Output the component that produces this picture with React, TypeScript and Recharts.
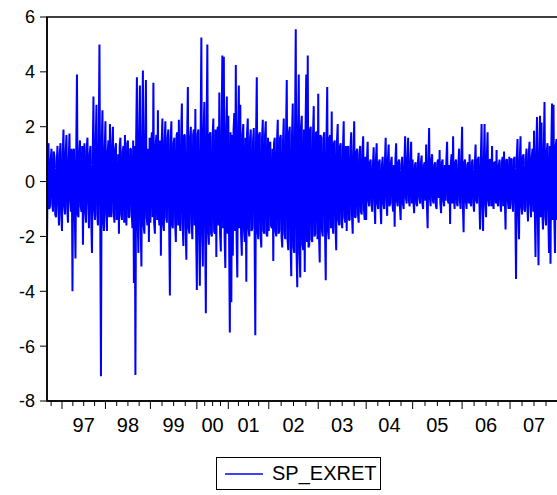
import { LineChart, Line, XAxis, YAxis, ReferenceArea, Legend } from "recharts";

const FONT = '"Liberation Sans", Arial, sans-serif';

// year labels (two digits, EViews style)
const yearLabels = ["96", "97", "98", "99", "00", "01", "02", "03", "04", "05", "06", "07"];

// daily excess returns, thinned out, one array per calendar year
const y1996 = [-2.3, 0.9, 1.4, -1.0, -0.9, 0.8, 1.2, -0.8, -1.1, 1.1, 0.9, -1.2, -1.3, 0.7, 1.3, -0.9, -1.6, 1.0, 1.4, -1.2];
const y1997 = [
  -1.8, 1.0, 1.9, -0.9, -1.2, 1.1, 1.7, -1.0, -1.5, 0.8, 1.75, -0.7, -1.1, 1.2, -4.0, 0.9, 1.2, -1.0, -2.8, 1.1,
  3.9, -1.2, -1.3, 1.0, 1.5, -0.9, -1.1, 1.3, -2.3, 0.8, 1.4, -1.1, -1.5, 1.2, 1.6, -0.8, -1.7, 1.0, 1.3, -1.3,
  -2.6, 0.9, 3.1, -1.0, -1.4, 1.4, 2.8, -1.2, -1.6, 1.1, 5.0, -1.0, -7.1, 1.3, 2.6, -1.4, -1.8, 1.2,
];
const y1998 = [
  2.2, -1.2, -1.8, 1.1, 1.5, -1.3, 2.1, -1.0, -1.3, 1.4, 2.0, -1.1, -1.5, 1.2, 1.4, -1.4, -1.2, 1.0, -1.9, 1.3,
  1.6, -1.2, -1.4, 1.1, 1.3, -1.5, 1.7, -1.0, -1.6, 1.4, 1.5, -1.3, -1.3, 1.2, 1.2, -1.1, -1.7, 1.5, -3.7, 1.3,
  -7.05, 1.6, 3.8, -1.4, -2.6, 1.7, 3.5, -1.5, -3.1, 1.4, 4.05, -1.6, -1.9, 1.5, 3.7, -1.3, -1.6, 1.2, -2.2, 1.6,
];
const y1999 = [
  -1.5, 1.4, 1.8, -1.3, 3.6, -1.5, -1.9, 1.3, 1.7, -1.4, 2.6, -1.2, -1.6, 1.5, -2.7, 1.4, 2.3, -1.6, -1.8, 1.5,
  2.2, -1.3, -1.5, 1.6, 1.9, -1.4, -4.15, 1.5, 2.2, -1.6, -1.7, 1.4, 1.6, -1.5, -2.2, 1.7, 1.8, -1.6, 2.25, -1.4,
  -1.8, 1.6, 2.85, -1.5, -2.35, 1.7, 1.7, -1.6, -2.85, 1.5, 3.45, -1.7, -1.9, 1.6, 2.0, -1.5, -2.1, 1.7, 1.9, -1.6,
  2.65, -1.8,
];
const y2000 = [
  -3.95, 1.7, 1.9, -1.8, -3.8, 1.6, 5.25, -1.9, -3.1, 1.8, 2.9, -1.7, -4.8, 1.9, 5.0, -1.8, -2.3, 1.7, 1.8, -1.9,
  -2.0, 1.6, 2.3, -1.8, -1.9, 1.9, -2.75, 1.7, 2.0, -1.6, 3.25, -1.9, -2.55, 1.8, 4.6, -1.7, 4.55, -2.0, -3.15, 1.8,
  3.1, -1.9,
];
const y2001 = [
  2.4, -1.9, -5.5, 1.8, -4.4, 1.7, -2.7, 1.9, 2.5, -1.8, 4.25, -2.0, -3.5, 1.8, 3.5, -1.7, 2.8, -1.9, -2.7, 1.7,
  2.1, -1.8, -2.2, 1.6, -3.65, 1.8, 2.3, -1.7, -2.0, 1.6, 1.9, -1.8, -1.7, 1.5, 1.95, -1.7, -5.6, 1.6, 3.8, -1.8,
  -2.1, 1.7, 1.8, -1.9, -2.4, 1.6, 2.25, -1.8, -1.9, 1.7, 2.2, -1.9, -2.0, 1.6,
];
const y2002 = [
  -1.8, 1.3, 1.45, -1.6, -1.7, 1.2, -2.9, 1.4, 1.6, -1.8, -2.0, 1.5, 2.25, -1.9, -1.8, 1.6, 1.7, -2.0, -2.4, 1.5,
  2.3, -1.9, -2.1, 1.7, 3.7, -2.1, -2.5, 1.8, 2.0, -2.2, -3.45, 1.7, 2.85, -2.4, -2.6, 1.9, 5.55, -2.5, -3.85, 1.8,
  3.9, -2.6, -3.5, 2.0, 2.4, -2.3, -2.5, 1.9, -3.3, 1.8, 3.9, -2.2, 4.6, -2.4, -2.3, 1.9, 2.0, -2.1, -2.2, 1.7,
  2.75, -2.0, -1.9, 1.8, 1.8, -2.1,
];
const y2003 = [
  3.2, -1.9, -2.95, 1.7, 1.6, -1.8, -2.0, 1.6, 1.8, -1.7, -3.6, 1.5, 3.45, -1.8, -2.1, 1.6, 1.7, -1.7, 2.55, -1.5,
  -1.9, 1.4, 1.5, -1.6, -2.5, 1.5, 2.1, -1.4, -1.6, 1.3, 1.4, -1.5, -1.7, 1.2, 2.2, -1.3, -1.5, 1.3, -1.8, 1.1,
  1.3, -1.4, -1.4, 1.2, 1.8, -1.2, -1.9, 1.0, 2.2, -1.3, -1.3, 1.1, 1.2, -1.2, -1.5, 1.0, 1.3, -1.1, -1.2, 1.1,
  1.65, -1.0, -1.4, 0.9,
];
const y2004 = [
  -1.4, 0.8, 1.45, -0.7, -0.9, 0.7, 0.8, -0.8, -1.1, 0.6, 1.25, -0.7, -1.55, 0.8, 1.4, -0.8, -1.0, 0.7, 0.8, -0.9,
  -1.55, 0.6, 0.9, -0.8, -1.0, 0.7, 1.6, -0.7, -1.25, 0.8, 1.35, -0.9, -0.8, 0.7, 0.9, -0.8, -1.1, 0.6, -1.65, 0.8,
  1.4, -0.7, -0.9, 0.7, 0.8, -0.9, -1.4, 0.6, 0.9, -0.8, -1.0, 0.7, 1.65, -0.6, -0.8, 0.8, 1.6, -0.7, -0.9, 0.7,
  1.45, -0.8,
];
const y2005 = [
  0.8, -0.7, -1.15, 0.6, 0.7, -0.8, -0.9, 0.7, 1.05, -0.6, -0.8, 0.7, 0.95, -0.8, -1.0, 0.6, 0.7, -0.7, 1.35, -0.8,
  -1.7, 0.7, 1.95, -0.6, -0.9, 0.8, 1.0, -0.7, -0.8, 0.6, 0.7, -0.9, -1.0, 0.7, 0.8, -0.6, 1.15, -0.8, -1.15, 0.7,
  0.8, -0.7, -0.9, 0.6, -0.7, 0.8, 1.45, -0.7, -0.8, 0.6, -1.55, 0.7, 1.0, -0.8, 1.65, -0.6, -1.0, 0.7, 0.8, -0.8,
  -0.9, 0.6, 1.2, -0.7, -1.0, 0.8,
];
const y2006 = [
  2.0, -0.8, -1.85, 0.7, 0.8, -0.7, -1.0, 0.6, 0.7, -0.8, 1.0, -0.7, -0.9, 0.7, 0.8, -0.8, -1.1, 0.6, 1.35, -0.7,
  -0.8, 0.8, 0.9, -0.7, -1.75, 0.8, 2.1, -0.9, -1.8, 0.7, 2.1, -0.8, -1.3, 0.9, 1.8, -0.7, -0.9, 0.8, 0.8, -0.9,
  1.3, -0.6, -1.0, 0.7, 0.7, -0.8, 1.15, -0.7, -0.9, 0.6, 0.8, -0.8, -1.1, 0.7, 0.9, -0.9, 1.1, -0.6, -1.75, 0.8,
  0.8, -0.7, -1.0, 0.9,
];
const y2007 = [
  -1.0, 0.7, 0.85, -0.8, -1.1, 0.8, 0.9, -0.9, -3.55, 0.9, 1.55, -1.0, -2.1, 0.8, 1.65, -0.9, -1.2, 0.9, 1.0, -1.0,
  -1.1, 0.8, 1.2, -0.9, -1.45, 1.0, 1.45, -0.8, -1.3, 0.9, 1.2, -1.1, 1.85, -1.0, -2.75, 1.1, 2.35, -1.2, -3.05, 1.0,
  2.4, -1.3, 2.15, -1.1, -1.75, 1.2, 2.9, -1.3, -1.6, 1.1, 1.4, -1.2, -2.6, 1.3, -3.0, 1.2, 2.85, -1.4, 2.8, -1.2,
  -2.6, 1.3, 1.55, -1.4,
];

const yearSeries = [y1996, y1997, y1998, y1999, y2000, y2001, y2002, y2003, y2004, y2005, y2006, y2007];
const yTicks = [-8, -6, -4, -2, 0, 2, 4, 6];

const data = yearSeries.flat().map((v, i) => ({ t: i, v }));
const total = data.length;

// year boundaries in observation units
const starts: number[] = [];
yearSeries.reduce((acc, arr) => {
  starts.push(acc);
  return acc + arr.length;
}, 0);

// quarter ticks, major at year start, label in the middle of the year
type TickMeta = { value: number; major: boolean; label?: string };
const tickMeta: TickMeta[] = [];
yearSeries.forEach((arr, k) => {
  if (k === 0) {
    // first year is partial: only its last quarter mark shows
    const q = yearSeries[1].length / 4;
    const v = starts[1] - q;
    if (v > 0) tickMeta.push({ value: v, major: false });
    return;
  }
  const q = arr.length / 4;
  for (let j = 0; j < 4; j++) {
    tickMeta.push({
      value: starts[k] + j * q,
      major: j === 0,
      label: j === 2 ? yearLabels[k] : undefined,
    });
  }
});
const xTicks = tickMeta.map((m) => m.value);

// eslint-disable-next-line @typescript-eslint/no-explicit-any
function YearTick({ x, y, payload }: any) {
  const info = tickMeta.find((m) => Math.abs(m.value - payload.value) < 1e-6);
  return (
    <g>
      <line x1={x} y1={y} x2={x} y2={y + (info?.major ? 8 : 5)} stroke="#000" strokeWidth={1} />
      {info?.label && (
        <text x={x} y={y + 31} textAnchor="middle" fill="#000" fontSize={20} fontFamily={FONT}>
          {info.label}
        </text>
      )}
    </g>
  );
}

// eslint-disable-next-line @typescript-eslint/no-explicit-any
function LegendBox({ payload }: any) {
  const entry = payload?.[0];
  if (!entry) return null;
  return (
    <div
      style={{
        boxSizing: "border-box",
        width: 165,
        height: 33,
        border: "1px solid #000",
        background: "#fff",
        display: "flex",
        alignItems: "center",
        fontFamily: FONT,
        fontSize: 20,
        color: "#000",
      }}
    >
      <svg width={55} height={10} style={{ display: "block" }}>
        <line x1={8} y1={5} x2={46} y2={5} stroke={entry.color} strokeWidth={1.5} />
      </svg>
      <span>{entry.value}</span>
    </div>
  );
}

export default function App() {
  return (
    <div
      style={{
        position: "absolute",
        left: 0,
        top: 0,
        width: 557,
        height: 495,
        overflow: "hidden",
        background: "#fff",
      }}
    >
      <LineChart width={600} height={495} data={data} margin={{ top: 17, right: 42, left: 0, bottom: 0 }}>
        <XAxis
          type="number"
          dataKey="t"
          domain={[0, total]}
          ticks={xTicks}
          interval={0}
          tick={<YearTick />}
          tickLine={false}
          tickSize={0}
          tickMargin={0}
          axisLine={{ stroke: "#000", strokeWidth: 1.5 }}
          height={94}
          allowDataOverflow
        />
        <YAxis
          type="number"
          domain={[-8, 6]}
          ticks={yTicks}
          interval={0}
          width={47}
          tickSize={7}
          tickMargin={5}
          tick={{ fill: "#000", fontSize: 18, fontFamily: FONT }}
          tickLine={{ stroke: "#000" }}
          axisLine={{ stroke: "#000", strokeWidth: 1.5 }}
          allowDataOverflow
        />
        <ReferenceArea x1={0} x2={total} y1={-8} y2={6} fill="none" stroke="#000" strokeWidth={1.5} />
        <Line
          type="linear"
          dataKey="v"
          name="SP_EXRET"
          stroke="#0000ff"
          strokeWidth={2}
          strokeLinejoin="bevel"
          dot={false}
          isAnimationActive={false}
        />
        <Legend
          layout="horizontal"
          verticalAlign="middle"
          align="center"
          wrapperStyle={{ position: "absolute", left: 216, top: 457, width: 165, height: 33 }}
          content={<LegendBox />}
        />
      </LineChart>
    </div>
  );
}
